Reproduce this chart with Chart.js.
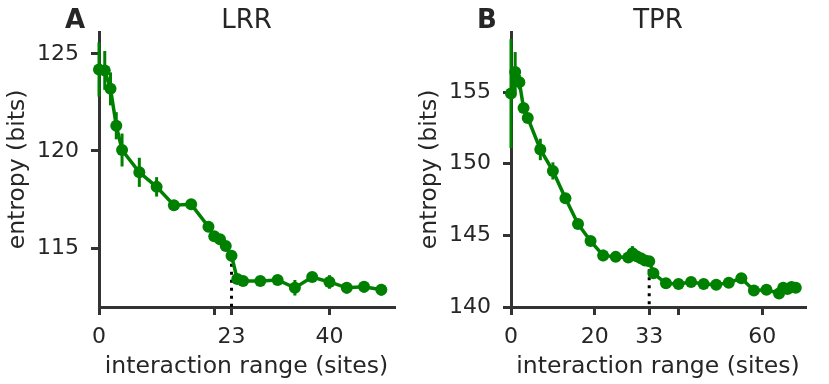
<!DOCTYPE html>
<html>
<head>
<meta charset="utf-8">
<script src="https://cdn.jsdelivr.net/npm/chart.js@4.4.1/dist/chart.umd.min.js"></script>
<style>
  html, body { margin: 0; padding: 0; background: #fff; }
  #wrap { position: relative; width: 829px; height: 384px; }
  #wrap canvas { position: absolute; left: 0; top: 0; }
</style>
</head>
<body>
<div id="wrap">
  <canvas id="lrrChart" width="829" height="384"></canvas>
  <canvas id="tprChart" width="829" height="384"></canvas>
</div>
<script>
// ---- data ----
const lrrRange   = [0, 1, 2, 3, 4, 7, 10, 13, 16, 19, 20, 21, 22, 23, 24, 25, 28, 31, 34, 37, 40, 43, 46, 49];
const lrrEntropy = [124.2, 124.15, 123.2, 121.3, 120.05, 118.9, 118.15, 117.2, 117.25, 116.1, 115.6, 115.45, 115.1, 114.6,
                    113.4, 113.3, 113.3, 113.35, 112.95, 113.5, 113.25, 112.95, 113.0, 112.85];
const lrrErr     = [1.4, 1.0, 0.85, 0.7, 0.85, 0.75, 0.5, 0.2, 0.2, 0.25, 0.2, 0.2, 0.2, 0.3,
                    0.2, 0.2, 0.15, 0.2, 0.4, 0.2, 0.35, 0.3, 0.3, 0.3];
const lrrCutoff  = 23;
const lrrXTicks  = [0, 20, 23, 40];
const lrrXLabels = ["0", "", "23", "40"];
const lrrYTicks  = [115, 120, 125];

const tprRange   = [0, 1, 2, 3, 4, 7, 10, 13, 16, 19, 22, 25, 28, 29, 30, 31, 32, 33, 34, 37, 40, 43, 46, 49,
                    52, 55, 58, 61, 64, 65, 66, 67, 68];
const tprEntropy = [154.9, 156.4, 155.7, 153.9, 153.2, 151.0, 149.5, 147.6, 145.8, 144.6, 143.6, 143.5, 143.45, 143.75,
                    143.55, 143.4, 143.25, 143.2, 142.35, 141.65, 141.6, 141.75, 141.6, 141.55, 141.7, 142.0,
                    141.15, 141.2, 140.95, 141.35, 141.25, 141.4, 141.35];
const tprErr     = [3.8, 1.4, 0.5, 0.3, 0.3, 0.75, 0.6, 0.3, 0.3, 0.2, 0.4, 0.2, 0.2, 0.5, 0.3, 0.2, 0.2, 0.2,
                    0.2, 0.15, 0.15, 0.15, 0.15, 0.15, 0.35, 0.2, 0.15, 0.15, 0.15, 0.3, 0.3, 0.3, 0.2];
const tprCutoff  = 33;
const tprXTicks  = [0, 20, 33, 40, 60];
const tprXLabels = ["0", "20", "33", "", "60"];
const tprYTicks  = [140, 145, 150, 155];

const GREEN = "#008000";
const SPINE = "#333333";
const TEXT  = "#262626";
const FONT  = "'DejaVu Sans', sans-serif";

/* error bars on top of the line */
const errorBars = {
    id: "errorBars",
    afterDatasetsDraw(chart, args, opts) {
        const { ctx, scales: { x, y } } = chart;
        ctx.save();
        ctx.strokeStyle = GREEN;
        ctx.lineWidth = 3;
        opts.xs.forEach((xv, i) => {
            const px = x.getPixelForValue(xv);
            ctx.beginPath();
            ctx.moveTo(px, y.getPixelForValue(opts.ys[i] - opts.errs[i]));
            ctx.lineTo(px, y.getPixelForValue(opts.ys[i] + opts.errs[i]));
            ctx.stroke();
        });
        ctx.restore();
    }
};

/* dotted line marking the cut-off range */
const cutoffLine = {
    id: "cutoffLine",
    beforeDatasetsDraw(chart, args, opts) {
        const { ctx, scales: { x, y } } = chart;
        const i = opts.xs.indexOf(opts.at);
        const px = x.getPixelForValue(opts.at);
        ctx.save();
        ctx.strokeStyle = "#000";
        ctx.lineWidth = 3;
        ctx.setLineDash([3, 5]);
        ctx.beginPath();
        ctx.moveTo(px, y.getPixelForValue(opts.ys[i]));
        ctx.lineTo(px, y.getPixelForValue(y.min));
        ctx.stroke();
        ctx.restore();
    }
};

/* panel letter and title */
const panelText = {
    id: "panelText",
    afterDraw(chart, args, opts) {
        const { ctx, chartArea } = chart;
        ctx.save();
        ctx.fillStyle = TEXT;
        ctx.textAlign = "center";
        ctx.textBaseline = "alphabetic";
        ctx.font = "bold 26px " + FONT;
        ctx.fillText(opts.letter, chartArea.left - 24, 28);
        ctx.font = "26px " + FONT;
        ctx.fillText(opts.title, (chartArea.left + chartArea.right) / 2, 28);
        ctx.restore();
    }
};

function makePanel(id, p) {
    new Chart(document.getElementById(id), {
        type: "scatter",
        data: {
            datasets: [{
                data: p.xs.map((v, i) => ({ x: v, y: p.ys[i] })),
                showLine: true,
                borderColor: GREEN,
                backgroundColor: GREEN,
                borderWidth: 3.5,
                pointRadius: 6,
                pointHoverRadius: 6,
                pointBorderWidth: 0,
                clip: false
            }]
        },
        options: {
            responsive: false,
            animation: false,
            events: [],
            layout: { padding: { left: p.padLeft, right: p.padRight, top: 32, bottom: 0 } },
            plugins: {
                legend: { display: false },
                tooltip: { enabled: false },
                errorBars: { xs: p.xs, ys: p.ys, errs: p.errs },
                cutoffLine: { xs: p.xs, ys: p.ys, at: p.cutoff },
                panelText: { letter: p.letter, title: p.title }
            },
            scales: {
                x: {
                    type: "linear",
                    min: 0,
                    max: p.xMax,
                    afterFit: s => { s.height = 77; },
                    afterBuildTicks: s => { s.ticks = p.xTicks.map(v => ({ value: v })); },
                    ticks: {
                        callback: (v, i) => p.xLabels[i],
                        autoSkip: false,
                        maxRotation: 0,
                        color: TEXT,
                        padding: 9,
                        font: { family: FONT, size: 22 }
                    },
                    grid: { display: true, drawOnChartArea: false, drawTicks: true, tickLength: 8, color: SPINE, lineWidth: 3 },
                    border: { display: true, color: SPINE, width: 3 },
                    title: {
                        display: true,
                        text: "interaction range (sites)",
                        color: TEXT,
                        font: { family: FONT, size: 23.5 },
                        padding: { top: 0, bottom: 3 }
                    }
                },
                y: {
                    type: "linear",
                    min: p.yMin,
                    max: p.yMax,
                    afterFit: s => { s.width = 99; },
                    afterBuildTicks: s => { s.ticks = p.yTicks.map(v => ({ value: v })); },
                    ticks: {
                        color: TEXT,
                        padding: 12,
                        font: { family: FONT, size: 22 }
                    },
                    grid: { display: true, drawOnChartArea: false, drawTicks: true, tickLength: 8, color: SPINE, lineWidth: 3 },
                    border: { display: true, color: SPINE, width: 3 },
                    title: {
                        display: true,
                        text: "entropy (bits)",
                        color: TEXT,
                        font: { family: FONT, size: 23.5 },
                        padding: { top: 4, bottom: 0 }
                    }
                }
            }
        },
        plugins: [errorBars, cutoffLine, panelText]
    });
}

makePanel("lrrChart", {
    xs: lrrRange, ys: lrrEntropy, errs: lrrErr, cutoff: lrrCutoff,
    xTicks: lrrXTicks, xLabels: lrrXLabels, yTicks: lrrYTicks,
    xMax: 51.2, yMin: 111.96, yMax: 126.13,
    padLeft: 0, padRight: 435, letter: "A", title: "LRR"
});

makePanel("tprChart", {
    xs: tprRange, ys: tprEntropy, errs: tprErr, cutoff: tprCutoff,
    xTicks: tprXTicks, xLabels: tprXLabels, yTicks: tprYTicks,
    xMax: 70.2, yMin: 140, yMax: 159.2,
    padLeft: 412, padRight: 24, letter: "B", title: "TPR"
});
</script>
</body>
</html>
